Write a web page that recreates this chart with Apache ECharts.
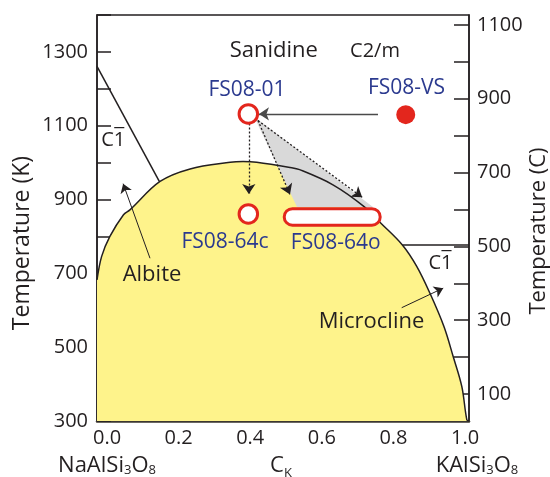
<!DOCTYPE html>
<html><head><meta charset="utf-8">
<script src="https://cdn.jsdelivr.net/npm/echarts@6/dist/echarts.min.js"></script>
<style>html,body{margin:0;padding:0;background:#fff}#c{width:550px;height:477px}</style>
</head><body><div id="c"></div>
<script>
// ---- tick labels ----
const xTickLabels = [0.0, 0.2, 0.4, 0.6, 0.8, 1.0];
const kTickLabels = [300, 500, 700, 900, 1100, 1300];
const cTickValues = [100, 200, 300, 400, 500, 600, 700, 800, 900, 1000, 1100];
const cTickLabels = [100, 300, 500, 700, 900, 1100];

// ---- phase boundaries (c_K, T in K) ----
const solvus = [[-0.028,682],[-0.015,746],[0.008,800],[0.046,859],[0.064,872],[0.148,949],[0.232,983],
  [0.344,1001],[0.380,1003],[0.418,1001],[0.511,987],[0.538,981],[0.631,940],[0.718,881],[0.765,836],[0.825,777],
  [0.865,719],[0.902,646],[0.941,556],[0.967,474],[0.991,393],[1.005,303],[1.011,300]];
const albiteTransition = [[-0.028,1261],[0.146,949]];
const microclineTransition = [[0.825,777],[1.011,777]];
const grayWedge = [[0.4105,1125],[0.5306,880],[0.7429,880]];

// ---- samples ----
const openSamples = [[0.3947,1132,'FS08-01'],[0.3947,861,'FS08-64c']];
const filledSamples = [[0.8343,1130,'FS08-VS']];
const pill64o = [[0.4907,0.7672,853]];   // c_K from, c_K to, T

// ---- arrows [from, to] ----
const solidArrows = [[[0.7568,1132],[0.4244,1132]]];
const dottedArrows = [[[0.3960,1106],[0.3960,915]],[[0.4217,1114],[0.5110,914]],[[0.4217,1114],[0.7127,906]]];
const phaseArrows = [[[0.120,741],[0.045,943]],[[0.823,607],[0.939,660]]];

// ---- annotations (c_K, T, text) ----
const phaseLabels = [[0.4658,1302,'Sanidine'],[0.1256,695,'Albite'],[0.7387,569,'Microcline']];
const spaceGroupLabels = [[0.7484,1302,'C2/m']];
const tricLabels = [[0.0175,1060,'C1'],[0.9314,726,'C1']];   // C-one-bar
const sampleLabels = [[0.391,1198,'FS08-01'],[0.8364,1202,'FS08-VS'],[0.3295,786,'FS08-64c'],[0.6387,783,'FS08-64o']];

const INK = '#231f20', RED = '#e3261d', BLUE = '#2b3a8f', YEL = '#fef38b', GRAY = '#d9d9d9';
const FONT = "'Open Sans', sans-serif";

const chart = echarts.init(document.getElementById('c'), null, {renderer: 'canvas'});

function textSeries(data, color, size, fmt, offset) {
  return {
    type: 'scatter', symbolSize: 1, z: 20, silent: true,
    itemStyle: {color: 'rgba(0,0,0,0)', opacity: 1},
    data: data.map(d => ({value: [d[0], d[1]], name: d[2]})),
    label: {show: true, position: 'inside', formatter: fmt || (p => p.name), color: color, opacity: 1,
            offset: offset || [0, 0],
            fontSize: size, fontFamily: FONT, align: 'center', verticalAlign: 'middle'}
  };
}

const option = {
  animation: false,
  grid: {left: 97, right: 81, top: 15, bottom: 56, show: true, borderColor: INK, borderWidth: 1.5,
         outerBoundsMode: 'none', containLabel: false},
  xAxis: {
    type: 'value', min: -0.028, max: 1.011,
    axisLine: {show: true, onZero: false, lineStyle: {color: '#3b3731', width: 2.5}},
    axisTick: {show: false}, splitLine: {show: false},
    axisLabel: {customValues: xTickLabels, formatter: v => v.toFixed(1), color: INK, fontSize: 20, fontFamily: FONT, margin: 7}
  },
  yAxis: [{
    type: 'value', min: 300, max: 1400, interval: 100,
    axisLine: {show: true, onZero: false, lineStyle: {color: INK, width: 1.5}},
    axisTick: {show: true, inside: true, length: 14, lineStyle: {color: INK, width: 1.5}},
    splitLine: {show: false},
    axisLabel: {formatter: v => kTickLabels.includes(v) ? String(v) : '', color: INK, fontSize: 20, fontFamily: FONT, margin: 9}
  }, {
    type: 'value', position: 'right', min: 27, max: 1127,
    axisLine: {show: true, onZero: false, lineStyle: {color: INK, width: 1.5}},
    axisTick: {show: true, inside: true, length: 15, customValues: cTickValues, lineStyle: {color: INK, width: 1.5}},
    splitLine: {show: false},
    axisLabel: {customValues: cTickLabels, formatter: v => String(v), color: INK, fontSize: 20, fontFamily: FONT, margin: 8}
  }],
  graphic: [
    {type: 'text', x: 22.5, y: 243, rotation: Math.PI / 2,
     style: {text: 'Temperature (K)', fill: INK, font: '23px ' + FONT, align: 'center', verticalAlign: 'middle', textAlign: 'center', textVerticalAlign: 'middle'}},
    {type: 'text', x: 539, y: 231, rotation: Math.PI / 2,
     style: {text: 'Temperature (C)', fill: INK, font: '22px ' + FONT, align: 'center', verticalAlign: 'middle', textAlign: 'center', textVerticalAlign: 'middle'}},
    {type: 'text', x: 107, y: 466,
     style: {text: '{a|NaAlSi}{s|3}{a|O}{s|8}', align: 'center', verticalAlign: 'middle', textAlign: 'center', textVerticalAlign: 'middle',
       rich: {a: {fontSize: 22, fontFamily: FONT, fill: INK, color: INK, verticalAlign: 'bottom'},
              s: {fontSize: 13, fontFamily: FONT, fill: INK, color: INK, verticalAlign: 'bottom'}}}},
    {type: 'text', x: 281, y: 466,
     style: {text: '{a|C}{s|K}', align: 'center', verticalAlign: 'middle', textAlign: 'center', textVerticalAlign: 'middle',
       rich: {a: {fontSize: 22, fontFamily: FONT, fill: INK, color: INK, verticalAlign: 'bottom'},
              s: {fontSize: 13, fontFamily: FONT, fill: INK, color: INK, verticalAlign: 'bottom', padding: [0,0,-3,0]}}}},
    {type: 'text', x: 477, y: 466,
     style: {text: '{a|KAlSi}{s|3}{a|O}{s|8}', align: 'center', verticalAlign: 'middle', textAlign: 'center', textVerticalAlign: 'middle',
       rich: {a: {fontSize: 22, fontFamily: FONT, fill: INK, color: INK, verticalAlign: 'bottom'},
              s: {fontSize: 13, fontFamily: FONT, fill: INK, color: INK, verticalAlign: 'bottom'}}}}
  ],
  series: [
    // yellow two-feldspar field
    {type: 'line', data: solvus, smooth: 0.35, showSymbol: false, silent: true, z: 1,
     lineStyle: {width: 0, opacity: 0}, areaStyle: {color: YEL, opacity: 1, origin: 'start'}},
    // grey wedge
    {type: 'custom', silent: true, z: 2, data: grayWedge,
     renderItem: (params, api) => {
       if (params.dataIndex !== 0) return null;
       return {type: 'polygon', shape: {points: grayWedge.map(p => api.coord(p))}, style: {fill: GRAY}};
     }},
    // solvus outline
    {type: 'line', data: solvus, smooth: 0.35, showSymbol: false, silent: true, z: 3,
     lineStyle: {color: INK, width: 1.5}},
    {type: 'line', data: albiteTransition, showSymbol: false, silent: true, z: 3, lineStyle: {color: INK, width: 1.5}},
    {type: 'line', data: microclineTransition, showSymbol: false, silent: true, z: 3, lineStyle: {color: INK, width: 1.5}},
    // arrows
    {type: 'lines', coordinateSystem: 'cartesian2d', z: 4, silent: true, symbol: ['none', 'arrow'], symbolSize: [7, 10],
     lineStyle: {color: '#4a4a4a', width: 1.3, type: 'solid', opacity: 1},
     data: solidArrows.map(c => ({coords: c}))},
    {type: 'lines', coordinateSystem: 'cartesian2d', z: 4, silent: true, symbol: ['none', 'arrow'], symbolSize: [7, 10],
     lineStyle: {color: INK, width: 1.3, type: [2, 2], opacity: 1},
     data: dottedArrows.map(c => ({coords: c}))},
    {type: 'lines', coordinateSystem: 'cartesian2d', z: 4, silent: true, symbol: ['none', 'arrow'], symbolSize: [6, 9],
     lineStyle: {color: INK, width: 1, type: 'solid', opacity: 1},
     data: phaseArrows.map(c => ({coords: c}))},
    // pill FS08-64o
    {type: 'custom', z: 5, silent: true, data: pill64o, encode: {x: [0, 1], y: 2},
     renderItem: (params, api) => {
       const a = api.coord([api.value(0), api.value(2)]);
       const b = api.coord([api.value(1), api.value(2)]);
       const H = 19.5, lw = 3;
       return {type: 'rect', shape: {x: a[0] + lw / 2, y: a[1] - (H - lw) / 2, width: b[0] - a[0] - lw, height: H - lw, r: (H - lw) / 2},
               style: {fill: '#fff', stroke: RED, lineWidth: lw}};
     }},
    // sample circles
    {type: 'scatter', z: 6, silent: true, symbol: 'circle', symbolSize: 18.5,
     itemStyle: {color: '#fff', borderColor: RED, borderWidth: 3, opacity: 1},
     data: openSamples.map(d => [d[0], d[1]])},
    {type: 'scatter', z: 6, silent: true, symbol: 'circle', symbolSize: 19,
     itemStyle: {color: RED, opacity: 1},
     data: filledSamples.map(d => [d[0], d[1]])},
    textSeries(phaseLabels, INK, 22),
    textSeries(spaceGroupLabels, INK, 20),
    textSeries(tricLabels, INK, 20),
    textSeries(tricLabels, INK, 20, () => '\u00AF', [6, -2]),
    textSeries(sampleLabels, BLUE, 21)
  ]
};
chart.setOption(option);
</script>
</body></html>
